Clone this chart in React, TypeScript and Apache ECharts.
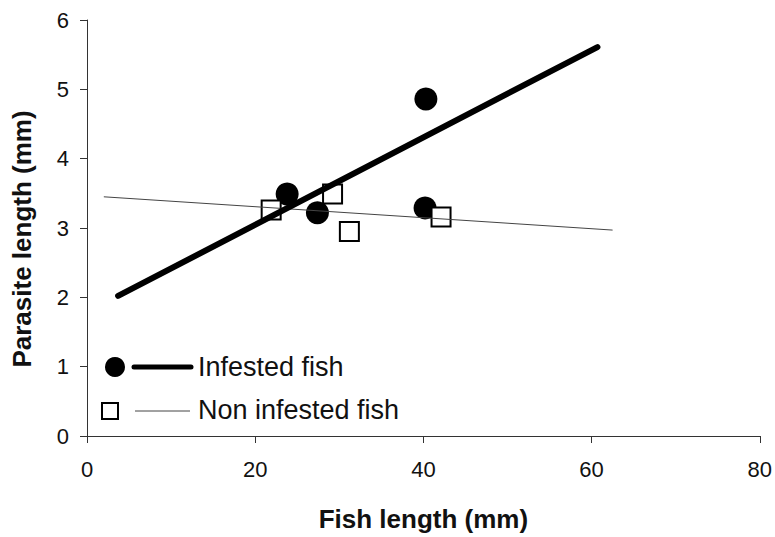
import React, { useEffect, useRef } from "react";
import * as echarts from "echarts";

const infestedPoints: [number, number][] = [
  [23.8, 3.49],
  [27.4, 3.22],
  [40.3, 4.86],
  [40.2, 3.29],
];
const nonInfestedPoints: [number, number][] = [
  [21.9, 3.26],
  [29.2, 3.49],
  [31.2, 2.95],
  [42.1, 3.16],
];
const infestedTrend: [number, number][] = [
  [3.7, 2.02],
  [60.7, 5.61],
];
const nonInfestedTrend: [number, number][] = [
  [2.0, 3.45],
  [62.5, 2.97],
];
const legendLabels = ["Infested fish", "Non infested fish"];
const xTitle = "Fish length (mm)";
const yTitle = "Parasite length (mm)";

const FONT = "'Liberation Sans', Arial, sans-serif";

export default function App() {
  const ref = useRef<HTMLDivElement>(null);
  useEffect(() => {
    document.body.style.margin = "0";
    if (!ref.current) return;
    const chart = echarts.init(ref.current, undefined, { renderer: "svg" });
    const axisLine = { show: true, lineStyle: { color: "#333", width: 1 } };
    chart.setOption({
      animation: false,
      backgroundColor: "#ffffff",
      grid: { left: 87, right: 15, top: 20, bottom: 101, containLabel: false },
      xAxis: {
        type: "value",
        min: 0,
        max: 80,
        interval: 20,
        name: xTitle,
        nameLocation: "middle",
        nameGap: 70,
        nameTextStyle: { fontFamily: FONT, fontSize: 26, fontWeight: "bold", color: "#111" },
        axisLine,
        axisTick: { show: true, inside: false, length: 7, lineStyle: { color: "#333" } },
        axisLabel: { fontFamily: FONT, fontSize: 22, color: "#111", margin: 22 },
        splitLine: { show: false },
      },
      yAxis: {
        type: "value",
        min: 0,
        max: 6,
        interval: 1,
        name: yTitle,
        nameLocation: "middle",
        nameGap: 52,
        nameRotate: 90,
        nameTextStyle: {
          fontFamily: FONT,
          fontSize: 26,
          fontWeight: "bold",
          color: "#111",
          padding: [0, 22, 0, 0],
        },
        axisLine,
        axisTick: { show: true, inside: false, length: 7, lineStyle: { color: "#333" } },
        axisLabel: { fontFamily: FONT, fontSize: 22, color: "#111", margin: 18 },
        splitLine: { show: false },
      },
      series: [
        {
          name: legendLabels[0],
          type: "scatter",
          data: infestedPoints,
          symbol: "circle",
          symbolSize: 23,
          itemStyle: { color: "#000", opacity: 1 },
          z: 2,
        },
        {
          name: legendLabels[1],
          type: "scatter",
          data: nonInfestedPoints,
          symbol: "rect",
          symbolSize: 19,
          itemStyle: { color: "#fff", borderColor: "#000", borderWidth: 2, opacity: 1 },
          z: 3,
        },
        {
          type: "line",
          data: nonInfestedTrend,
          showSymbol: false,
          symbol: "none",
          lineStyle: { color: "#444", width: 1 },
          z: 4,
        },
        {
          type: "line",
          data: infestedTrend,
          showSymbol: false,
          symbol: "none",
          lineStyle: { color: "#000", width: 6, cap: "round" },
          z: 5,
        },
      ],
      graphic: [
        { type: "circle", shape: { cx: 115, cy: 367, r: 10 }, style: { fill: "#000" } },
        {
          type: "line",
          shape: { x1: 134, y1: 367, x2: 191, y2: 367 },
          style: { stroke: "#000", lineWidth: 5, lineCap: "round" },
        },
        {
          type: "text",
          x: 198,
          y: 367,
          style: {
            text: legendLabels[0],
            fontFamily: FONT,
            fontSize: 27,
            fill: "#111",
            verticalAlign: "middle",
          },
        },
        {
          type: "rect",
          shape: { x: 102, y: 403, width: 16, height: 16 },
          style: { fill: "#fff", stroke: "#000", lineWidth: 2 },
        },
        {
          type: "line",
          shape: { x1: 135, y1: 411, x2: 190, y2: 411 },
          style: { stroke: "#444", lineWidth: 1 },
        },
        {
          type: "text",
          x: 198,
          y: 410,
          style: {
            text: legendLabels[1],
            fontFamily: FONT,
            fontSize: 27,
            fill: "#111",
            verticalAlign: "middle",
          },
        },
      ],
    });
    return () => chart.dispose();
  }, []);
  return <div ref={ref} style={{ width: 775, height: 537 }} />;
}
